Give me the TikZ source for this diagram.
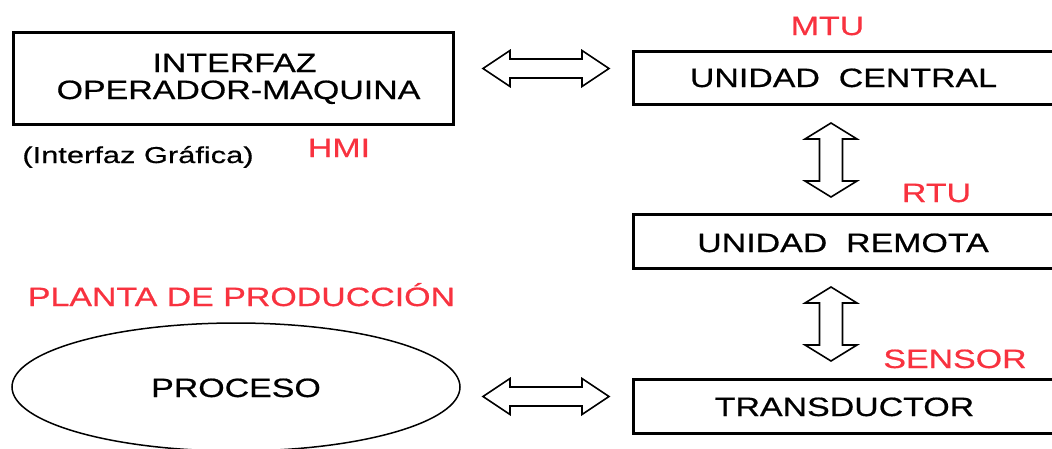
\documentclass[tikz,border=0pt]{standalone}
\usepackage{fontspec}
\usetikzlibrary{shapes.geometric}
\setmainfont{Liberation Sans}
\newfontfamily\wf[FakeStretch=1.28,FakeBold=0.6]{Liberation Sans}
\newfontfamily\wfs[FakeStretch=1.34,FakeBold=0.6]{Liberation Sans}
\definecolor{lblred}{HTML}{F8323F}
\newcommand\myharrow[3]{%
  \draw[barrow] (#1,#3) -- (#1+27,#3-18) -- (#1+27,#3-9.5) -- (#2-27,#3-9.5) -- (#2-27,#3-18) -- (#2,#3)
    -- (#2-27,#3+18) -- (#2-27,#3+9.5) -- (#1+27,#3+9.5) -- (#1+27,#3+18) -- cycle;}
\newcommand\myvarrow[3]{%
  \draw[barrow] (#1,#2) -- (#1+26,#2+16) -- (#1+11.5,#2+16) -- (#1+11.5,#3-16) -- (#1+26,#3-16) -- (#1,#3)
    -- (#1-26,#3-16) -- (#1-11.5,#3-16) -- (#1-11.5,#2+16) -- (#1-26,#2+16) -- cycle;}
\begin{document}
\begin{tikzpicture}[x=1pt,y=-1pt,
  box/.style={draw, line width=3pt, inner sep=0pt, outer sep=0pt, anchor=north west},
  txt/.style={inner sep=0pt, anchor=base, font=\wf\fontsize{26.5}{27}\selectfont, text=black},
  lbl/.style={txt, text=lblred},
  barrow/.style={draw, line width=1.6pt, fill=white, line join=miter}]
\useasboundingbox (0,0) rectangle (1052,448);
\clip (0,0) rectangle (1052,448);
% boxes
\node[box, minimum width=440pt, minimum height=92pt] (hmi) at (13,32) {};
\node[box, minimum width=437pt, minimum height=53pt] (uc) at (633,51) {};
\node[box, minimum width=437pt, minimum height=54pt] (ur) at (633,214) {};
\node[box, minimum width=437pt, minimum height=54pt] (tr) at (633,379) {};
\node[draw, ellipse, line width=1.5pt, minimum width=448pt, minimum height=128pt, inner sep=0pt] (proc) at (236,387) {};
% texts
\node[txt] (t1) at (234.5,72) {INTERFAZ};
\node[txt] (t2) at (238.5,99) {OPERADOR-MAQUINA};
\node[txt, font=\wfs\fontsize{23}{24}\selectfont] (t3) at (138,163) {(Interfaz Gráfica)};
\node[lbl] (l1) at (339,157) {HMI};
\node[lbl] (l2) at (827.5,35) {MTU};
\node[txt] (t4) at (843.5,87) {UNIDAD\ \ CENTRAL};
\node[lbl] (l3) at (936.5,202) {RTU};
\node[txt] (t5) at (843,252) {UNIDAD\ \ REMOTA};
\node[lbl] (l4) at (241.5,306) {PLANTA DE PRODUCCIÓN};
\node[txt] (t6) at (236,397) {PROCESO};
\node[lbl] (l5) at (955,368) {SENSOR};
\node[txt] (t7) at (844.5,416) {TRANSDUCTOR};
% block arrows
\myharrow{483}{609}{68.5}
\myharrow{483}{609}{396.5}
\myvarrow{831}{123}{197}
\myvarrow{831}{287}{361}
\end{tikzpicture}
\end{document}
